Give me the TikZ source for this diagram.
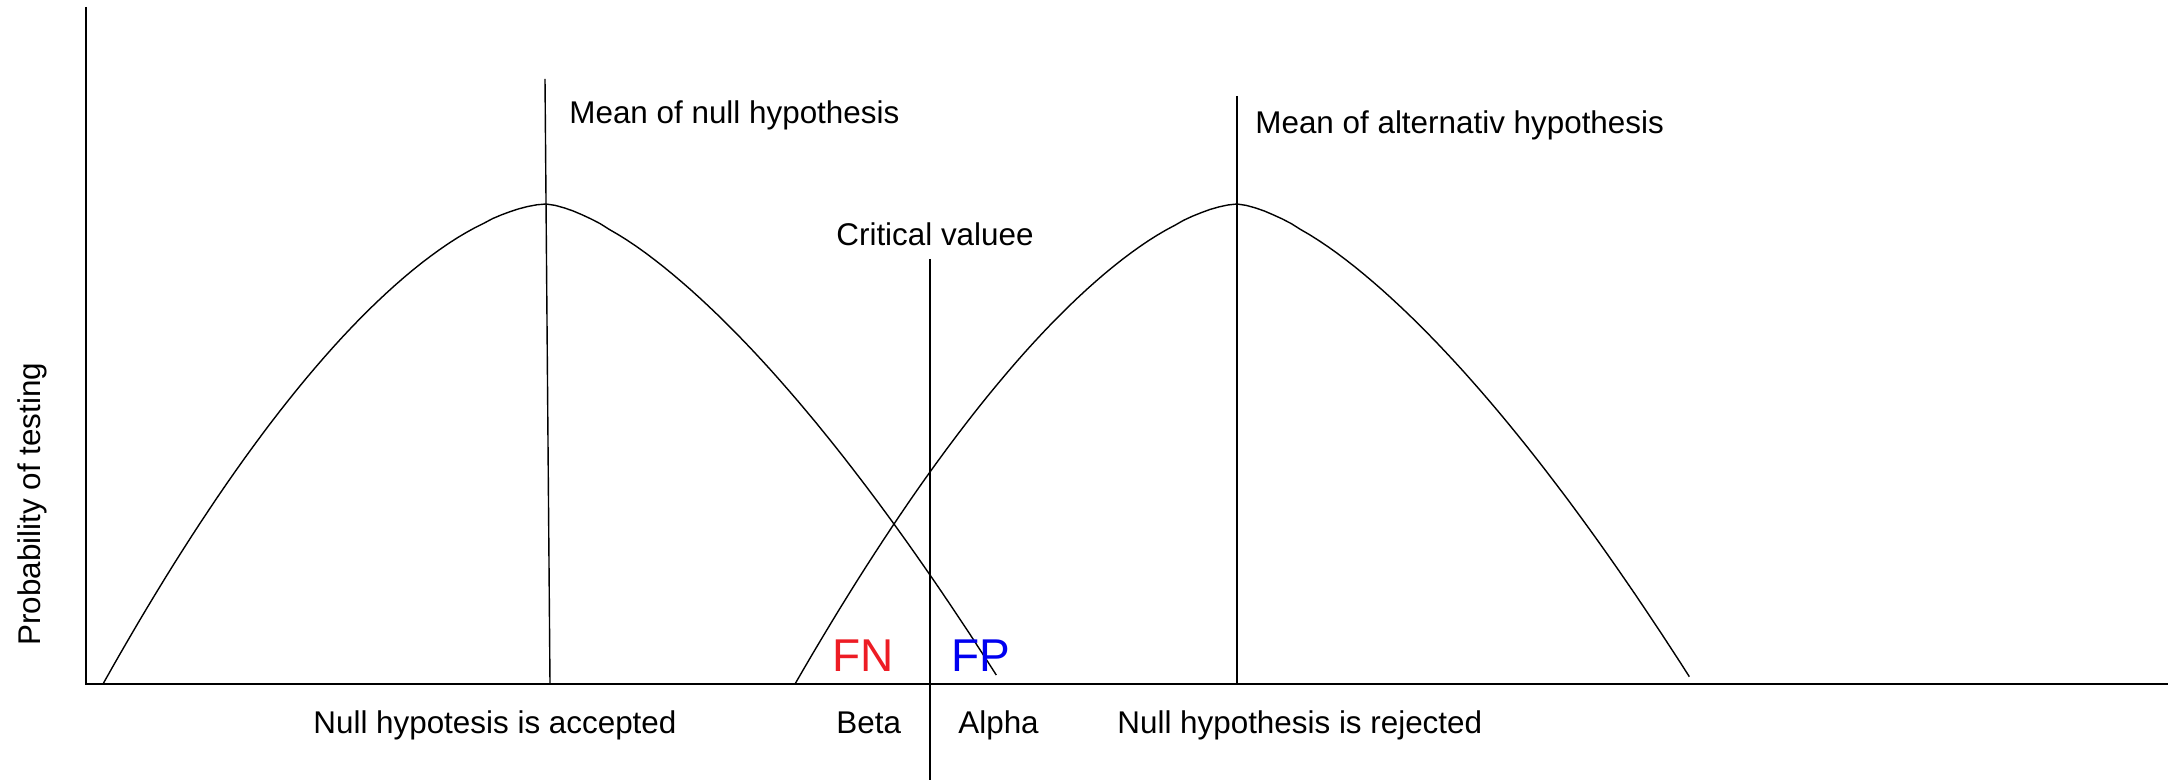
\documentclass[tikz,border=0pt]{standalone}
\usepackage{fontspec}
\setmainfont{Liberation Sans}
\usetikzlibrary{positioning}

\definecolor{fnred}{RGB}{237,28,36}
\definecolor{fpblue}{RGB}{0,0,240}

\begin{document}
\begin{tikzpicture}[
  x=0.5pt, y=-0.5pt,
  %--- style definitions ---
  axis/.style    = {line width=1pt, color=black},
  curve/.style   = {line width=0.7pt, color=black, line join=round},
  marker/.style  = {line width=0.7pt, color=black},
  lbl/.style     = {inner sep=0pt, anchor=base west, font=\fontsize{15.7}{19}\selectfont},
  errlbl/.style  = {inner sep=0pt, anchor=base west, font=\fontsize{23}{27}\selectfont, text=#1},
]
\useasboundingbox (0,0) rectangle (2179,780);

%% ── AXES ───────────────────────────────────────────────────────────────────
\coordinate (origin) at (86,684);
\coordinate (ytop)   at (86,7);
\coordinate (xend)   at (2168,684);
\draw[axis] (ytop) -- (origin) -- (xend);

%% ── NULL HYPOTHESIS CURVE ──────────────────────────────────────────────────
\draw[curve] (103,684)
  -- plot[domain=1:0.02, samples=50] ({546-443*\x},{204+480*\x^1.65})
  -- (546,204)
  -- plot[domain=0.02:0.988, samples=50] ({546+456*\x},{204+480*\x^1.5});

%% ── ALTERNATIVE HYPOTHESIS CURVE ───────────────────────────────────────────
\draw[curve] (795,684)
  -- plot[domain=1:0.02, samples=50] ({1237-442*\x},{204+480*\x^1.6})
  -- (1237,204)
  -- plot[domain=0.02:0.99, samples=50] ({1237+457*\x},{204+480*\x^1.5});

%% ── MARKER LINES ───────────────────────────────────────────────────────────
\coordinate (nulltop)  at (545,79);
\coordinate (nullbase) at (550,684);
\coordinate (alttop)   at (1237,96);
\coordinate (altbase)  at (1237,684);
\coordinate (crittop)  at (930,259);
\coordinate (critbase) at (930,780);
\draw[marker] (nulltop) -- (nullbase);
\draw[marker] (alttop)  -- (altbase);
\draw[marker] (crittop) -- (critbase);

%% ── LABELS ─────────────────────────────────────────────────────────────────
\node[lbl] (nullmean) at (569,124)  {Mean of null hypothesis};
\node[lbl] (altmean)  at (1255,134) {Mean of alternativ hypothesis};
\node[lbl] (crit)     at (836,246)  {Critical valuee};

\node[errlbl=fnred]  (fn) at (832,671) {FN};
\node[errlbl=fpblue] (fp) at (951,671) {FP};

\node[lbl] (beta)     at (836,733)  {Beta};
\node[lbl] (alpha)    at (958,733)  {Alpha};
\node[lbl] (accepted) at (313,733)  {Null hypotesis is accepted};
\node[lbl] (rejected) at (1117,733) {Null hypothesis is rejected};

\node[lbl, rotate=90] (ylabel) at (40,646) {Probability of testing};

\end{tikzpicture}
\end{document}
